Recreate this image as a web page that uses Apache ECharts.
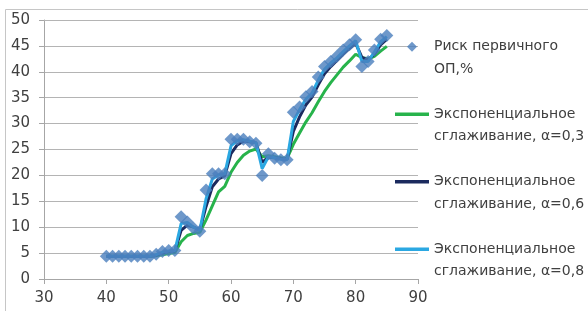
<!DOCTYPE html>
<html>
<head>
<meta charset="utf-8">
<script src="https://cdn.jsdelivr.net/npm/echarts@6/dist/echarts.min.js"></script>
<style>
  html, body { margin: 0; padding: 0; background: #fff; }
  #chart { width: 588px; height: 311px; }
</style>
</head>
<body>
<div id="chart"></div>
<script>
// ages on the x axis
var ages = [40, 41, 42, 43, 44, 45, 46, 47, 48, 49, 50, 51, 52, 53, 54, 55, 56, 57, 58, 59,
    60, 61, 62, 63, 64, 65, 66, 67, 68, 69, 70, 71, 72, 73, 74, 75, 76, 77, 78, 79,
    80, 81, 82, 83, 84, 85];
// риск первичного ОП, %
var risk = [4.4, 4.4, 4.4, 4.4, 4.4, 4.4, 4.4, 4.4, 4.8, 5.3, 5.5, 5.5, 12, 11, 9.8, 9.2, 17.2, 20.3, 20.3, 20.3,
    27, 27, 27, 26.5, 26.2, 20, 24.2, 23.3, 23, 23, 32.2, 33.2, 35.2, 36.2, 39, 41, 42, 43, 44.2, 45.2,
    46.2, 41, 42, 44.2, 46.3, 47];
// сглаживание, alpha = 0.3 / 0.6 / 0.8
var smooth03 = [4.4, 4.4, 4.4, 4.4, 4.4, 4.4, 4.4, 4.4, 4.5, 4.7, 4.9, 5.1, 7.2, 8.4, 8.8, 9.0, 11.4, 14.1, 16.8, 17.9,
    20.6, 22.5, 23.9, 24.7, 25.1, 23.6, 23.8, 23.6, 23.4, 23.3, 26, 28.2, 30.3, 32.1, 34.2, 36.2, 37.9, 39.4, 40.9, 42.1,
    43.4, 42.7, 42.5, 43, 44, 44.9];
var smooth06 = [4.4, 4.4, 4.4, 4.4, 4.4, 4.4, 4.4, 4.4, 4.6, 5.0, 5.3, 5.4, 9.4, 10.4, 10.0, 9.5, 14, 17.8, 19.3, 19.9,
    24.2, 25.9, 26.6, 26.5, 26.3, 22.5, 23.5, 23.4, 23.2, 23.1, 28.5, 31.3, 33.6, 35.1, 37.5, 39.6, 41, 42.2, 43.4, 44.5,
    45.5, 42.8, 42.3, 43.4, 45.2, 46.3];
var smooth08 = [4.4, 4.4, 4.4, 4.4, 4.4, 4.4, 4.4, 4.4, 4.7, 5.2, 5.4, 5.5, 10.7, 10.9, 10.0, 9.4, 15.5, 19.3, 20.1, 20.3,
    25.7, 26.7, 26.9, 26.6, 26.3, 21.3, 23.6, 23.4, 23.1, 23, 30.4, 32.7, 34.7, 35.9, 38.4, 40.5, 41.7, 42.7, 43.9, 45,
    46, 42, 42, 43.8, 45.8, 46.8];

var names = [
    'Риск первичного\nОП,%',
    'Экспоненциальное\nсглаживание, α=0,3',
    'Экспоненциальное\nсглаживание, α=0,6',
    'Экспоненциальное\nсглаживание, α=0,8'
];
var yMax = 50;

function pairs(ys) {
    return ages.map(function (x, i) { return [x, ys[i]]; });
}

var font = 'DejaVu Sans';
var gridColor = '#b4b4b4';
var chart = echarts.init(document.getElementById('chart'));

function lineSeries(name, ys, color) {
    return {
        name: name,
        type: 'line',
        data: pairs(ys),
        showSymbol: false,
        symbol: 'none',
        z: 2,
        itemStyle: { color: color },
        lineStyle: { color: color, width: 3 }
    };
}

var lineIcon = 'path://M0,0h34v3.5h-34z';

var greenLine = lineSeries(names[1], smooth03, '#27b34b');
// top gridline at 50
greenLine.markLine = {
    silent: true,
    symbol: 'none',
    label: { show: false },
    lineStyle: { color: gridColor, width: 1, type: 'solid' },
    data: [{ yAxis: yMax }]
};

var option = {
    animation: false,
    backgroundColor: '#fff',
    textStyle: { fontFamily: font },
    graphic: [{
        type: 'rect',
        shape: { x: 5.5, y: 9.5, width: 700, height: 400 },
        style: { fill: 'none', stroke: '#c6c6c6', lineWidth: 1 },
        silent: true
    }],
    grid: { left: 44, right: 170, top: 20, bottom: 32 },
    legend: {
        orient: 'vertical',
        left: 395,
        top: 13,
        padding: 0,
        itemGap: 0,
        itemWidth: 34,
        itemHeight: 10,
        selectedMode: false,
        // blank first line keeps the icon level with the first text line
        formatter: function (name) { return '\n' + name; },
        data: [
            { name: names[0], icon: 'path://M5,0L10,5L5,10L0,5Z' },
            { name: names[1], icon: lineIcon },
            { name: names[2], icon: lineIcon },
            { name: names[3], icon: lineIcon }
        ],
        textStyle: {
            fontFamily: font,
            fontSize: 14,
            color: '#404040',
            lineHeight: 22.5
        }
    },
    xAxis: {
        type: 'value',
        min: 30,
        max: 90,
        interval: 10,
        axisLine: { onZero: false, lineStyle: { color: '#a6a6a6' } },
        axisTick: { show: true, length: 5, lineStyle: { color: '#a6a6a6' } },
        axisLabel: { color: '#404040', fontSize: 15, fontFamily: font, margin: 12 },
        splitLine: { show: false }
    },
    yAxis: {
        type: 'value',
        min: 0,
        max: yMax,
        interval: 5,
        axisLine: { show: true, lineStyle: { color: '#a6a6a6' } },
        axisTick: { show: true, length: 5, lineStyle: { color: '#a6a6a6' } },
        axisLabel: { color: '#404040', fontSize: 15, fontFamily: font, margin: 14 },
        splitLine: { lineStyle: { color: gridColor } }
    },
    series: [
        greenLine,
        lineSeries(names[2], smooth06, '#1b2a5e'),
        lineSeries(names[3], smooth08, '#2ba8e2'),
        {
            name: names[0],
            type: 'scatter',
            data: pairs(risk),
            symbol: 'diamond',
            symbolSize: 13,
            z: 3,
            itemStyle: { color: '#4a7ebd' }
        }
    ]
};
chart.setOption(option);
</script>
</body>
</html>
